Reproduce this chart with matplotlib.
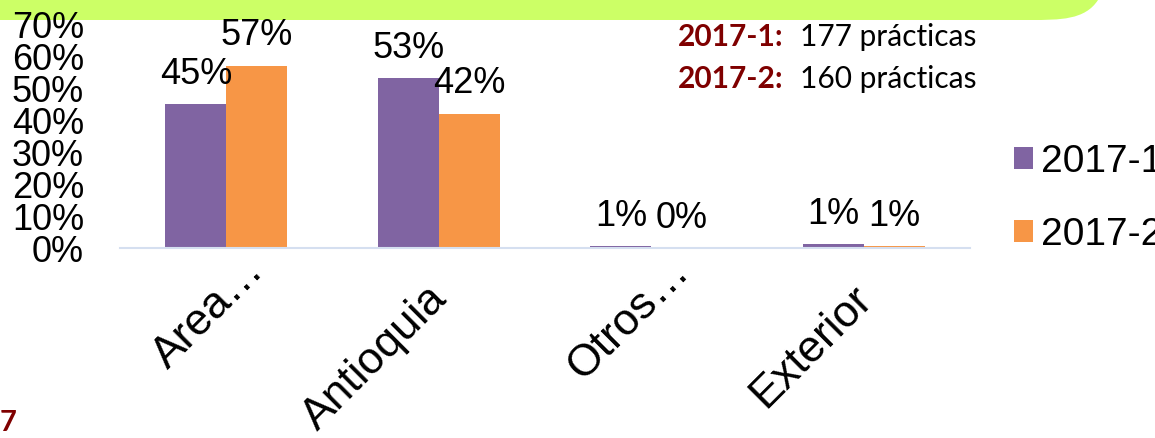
import matplotlib.pyplot as plt
import numpy as np
from matplotlib.path import Path
from matplotlib.patches import PathPatch
from matplotlib.transforms import Affine2D, ScaledTranslation

# Data
categories = ['Area…', 'Antioquia', 'Otros…', 'Exterior']
series_names = ['2017-1', '2017-2']
vals_2017_1 = [0.45, 0.53, 0.006, 0.012]
vals_2017_2 = [0.57, 0.42, 0.0, 0.006]
labels_2017_1 = ['45%', '53%', '1%', '1%']
labels_2017_2 = ['57%', '42%', '0%', '1%']
y_ticks = [0, 0.1, 0.2, 0.3, 0.4, 0.5, 0.6, 0.7]
note_keys = ['2017-1:', '2017-2:']
note_vals = ['177 prácticas', '160 prácticas']

purple = '#8064A2'
orange = '#F79646'
darkred = '#7f0000'

plt.rcParams['font.family'] = ['Liberation Sans', 'DejaVu Sans']

W, H = 1155, 438
fig = plt.figure(figsize=(W / 100, H / 100), dpi=100)
px = Affine2D().scale(1 / W, 1 / H) + fig.transFigure   # pixel coords, origin bottom-left

# green banner at the top with a curved right end
verts = [(-5, 450), (1105, 450), (1098, 438), (1085, 418), (1060, 418), (1030, 418), (-5, 418), (-5, 450)]
codes = [Path.MOVETO, Path.LINETO, Path.LINETO, Path.CURVE4, Path.CURVE4, Path.CURVE4, Path.LINETO, Path.CLOSEPOLY]
banner = PathPatch(Path(verts, codes), transform=px, facecolor='#ccff66', edgecolor='none', zorder=-5)
fig.patches.append(banner)

ax = fig.add_axes([120 / W, (H - 248) / H, 850 / W, 224 / H])
x = np.arange(len(categories))
w = 0.286
b1 = ax.bar(x - w / 2, vals_2017_1, w, color=purple, label=series_names[0], zorder=2)
b2 = ax.bar(x + w / 2, vals_2017_2, w, color=orange, label=series_names[1], zorder=2)

for bars, labs in [(b1, labels_2017_1), (b2, labels_2017_2)]:
    for rect, lab in zip(bars, labs):
        ax.annotate(lab, (rect.get_x() + rect.get_width() / 2, rect.get_height()),
                    xytext=(0, 9), textcoords='offset points', ha='center', va='bottom', fontsize=26)

ax.set_xlim(-0.5, len(categories) - 0.5)
ax.set_ylim(0, 0.7)
ax.set_yticks(y_ticks)
ax.set_yticklabels(['{:.0%}'.format(v) for v in y_ticks], fontsize=26)
ax.tick_params(axis='y', length=0, pad=26)
ax.set_xticks(x)
ax.set_xticklabels(categories, fontsize=32, rotation=45, ha='right', rotation_mode='anchor')
ax.tick_params(axis='x', length=0, pad=17)
for lab in ax.get_xticklabels():
    # truncated labels sit further up-right, like in the original
    dx, dy = -0.13, -0.06
    if lab.get_text().endswith('…'):
        dx, dy = dx + 0.3, dy + 0.28
    lab.set_transform(lab.get_transform() + ScaledTranslation(dx, dy, fig.dpi_scale_trans))
for s in ['top', 'right', 'left']:
    ax.spines[s].set_visible(False)
ax.spines['bottom'].set_color('#d5dff0')
ax.spines['bottom'].set_linewidth(1.5)
ax.patch.set_alpha(0)

# legend on the right (runs past the edge as in the original)
fig.legend(handles=[b1, b2], labels=series_names, loc='upper left',
           bbox_to_anchor=(1014 / W, 1 - 144 / H), frameon=False, fontsize=28,
           handlelength=0.5, handleheight=0.5, handletextpad=0.2, labelspacing=0.95,
           borderaxespad=0, borderpad=0)

# note with counts
for i, (k, v) in enumerate(zip(note_keys, note_vals)):
    yy = 1 - (37 + i * 42) / H
    fig.text(678 / W, yy, k, family=['Lato', 'DejaVu Sans'], fontweight='bold', color=darkred,
             fontsize=21.5, va='center', ha='left')
    fig.text(800 / W, yy, v, family=['Lato', 'DejaVu Sans'], color='black',
             fontsize=21.5, va='center', ha='left')

# fragment at bottom-left
fig.text(0, 1 - 423 / H, '7', family=['Lato', 'DejaVu Sans'], fontweight='bold',
         color=darkred, fontsize=21, va='center', ha='left')

fig.savefig('out.png', dpi=100)
